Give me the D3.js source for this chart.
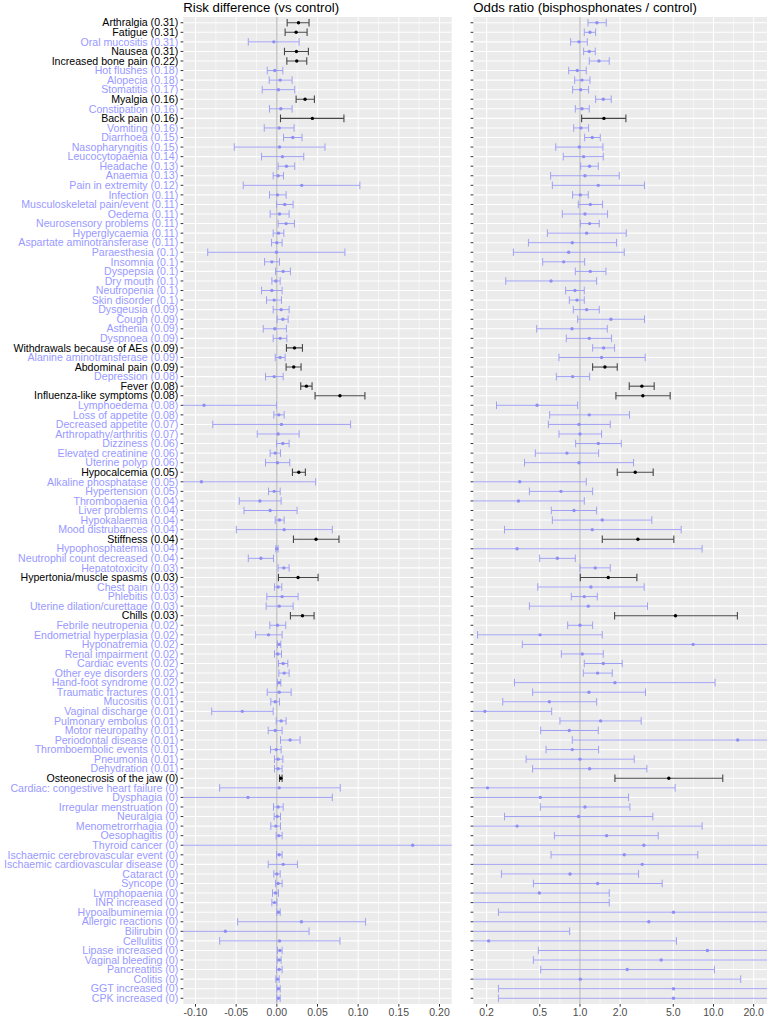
<!DOCTYPE html>
<html><head><meta charset="utf-8">
<script src="https://cdn.jsdelivr.net/npm/d3@7"></script>
<style>body{margin:0;background:#fff}svg{display:block}text{font-family:"Liberation Sans",Arial,sans-serif}</style>
</head><body><svg id="c" width="768" height="1017"></svg>
<script>
const labels = ["Arthralgia (0.31)","Fatigue (0.31)","Oral mucositis (0.31)","Nausea (0.31)","Increased bone pain (0.22)","Hot flushes (0.18)","Alopecia (0.18)","Stomatitis (0.17)","Myalgia (0.16)","Constipation (0.16)","Back pain (0.16)","Vomiting (0.16)","Diarrhoea (0.15)","Nasopharyngitis (0.15)","Leucocytopaenia (0.14)","Headache (0.13)","Anaemia (0.13)","Pain in extremity (0.12)","Infection (0.11)","Musculoskeletal pain/event (0.11)","Oedema (0.11)","Neurosensory problems (0.11)","Hyperglycaemia (0.11)","Aspartate aminotransferase (0.11)","Paraesthesia (0.1)","Insomnia (0.1)","Dyspepsia (0.1)","Dry mouth (0.1)","Neutropenia (0.1)","Skin disorder (0.1)","Dysgeusia (0.09)","Cough (0.09)","Asthenia (0.09)","Dyspnoea (0.09)","Withdrawals because of AEs (0.09)","Alanine aminotransferase (0.09)","Abdominal pain (0.09)","Depression (0.08)","Fever (0.08)","Influenza-like symptoms (0.08)","Lymphoedema (0.08)","Loss of appetite (0.08)","Decreased appetite (0.07)","Arthropathy/arthritis (0.07)","Dizziness (0.06)","Elevated creatinine (0.06)","Uterine polyp (0.06)","Hypocalcemia (0.05)","Alkaline phosphatase (0.05)","Hypertension (0.05)","Thrombopaenia (0.04)","Liver problems (0.04)","Hypokalaemia (0.04)","Mood distrubances (0.04)","Stiffness (0.04)","Hypophosphatemia (0.04)","Neutrophil count decreased (0.04)","Hepatotoxicity (0.03)","Hypertonia/muscle spasms (0.03)","Chest pain (0.03)","Phlebitis (0.03)","Uterine dilation/curettage (0.03)","Chills (0.03)","Febrile neutropenia (0.02)","Endometrial hyperplasia (0.02)","Hyponatremia (0.02)","Renal impairment (0.02)","Cardiac events (0.02)","Other eye disorders (0.02)","Hand-foot syndrome (0.02)","Traumatic fractures (0.01)","Mucositis (0.01)","Vaginal discharge (0.01)","Pulmonary embolus (0.01)","Motor neuropathy (0.01)","Periodontal disease (0.01)","Thromboembolic events (0.01)","Pneumonia (0.01)","Dehydration (0.01)","Osteonecrosis of the jaw (0)","Cardiac: congestive heart failure (0)","Dysphagia (0)","Irregular menstruation (0)","Neuralgia (0)","Menometrorrhagia (0)","Oesophagitis (0)","Thyroid cancer (0)","Ischaemic cerebrovascular event (0)","Ischaemic cardiovascular disease (0)","Cataract (0)","Syncope (0)","Lymphopaenia (0)","INR increased (0)","Hypoalbuminemia (0)","Allergic reactions (0)","Bilirubin (0)","Cellulitis (0)","Lipase increased (0)","Vaginal bleeding (0)","Pancreatitis (0)","Colitis (0)","GGT increased (0)","CPK increased (0)"];

const rdEst = [0.0266,0.0237,-0.0037,0.0241,0.0245,-0.0025,0.0041,0.002,0.0347,0.0049,0.0437,0.0029,0.0196,0.0033,0.0069,0.0118,0.0016,0.0306,0.0008,0.0098,0.0033,0.0114,0.002,0,-0.0004,-0.0061,0.0078,-0.0012,-0.0061,-0.0033,0.0053,0.0074,-0.0025,0.0041,0.0217,0.0041,0.0208,-0.0033,0.0364,0.0776,-0.0895,0.0025,0.0057,0.0016,0.0074,-0.002,0.0008,0.027,-0.0927,-0.0033,-0.0208,-0.0082,0.0033,0.009,0.0482,0,-0.0196,0.0086,0.0261,0.0016,0.0065,0.0029,0.0315,0.0008,-0.0102,0.0029,0.0012,0.0078,0.009,0.0029,0.0029,-0.002,-0.0425,0.0053,-0.002,0.0163,-0.0008,0.0016,0.0016,0.0049,0.0029,-0.0355,0.0016,0.0004,-0.0012,0.0025,0.167,0.0029,0.0078,0,0.0016,-0.0016,-0.0029,0.002,0.0302,-0.0633,0.0033,0.0037,0.0029,0.0029,0.0008,0.002,0.002];
const rdLo = [0.0127,0.0102,-0.0351,0.0094,0.0123,-0.0118,-0.0094,-0.018,0.0237,-0.009,0.0045,-0.0155,0.0082,-0.0523,-0.0188,0.0016,-0.0045,-0.0413,-0.009,-0.0004,-0.0082,0.0016,-0.0045,-0.0065,-0.085,-0.0151,-0.0016,-0.0061,-0.0188,-0.0127,-0.0045,0.0004,-0.0167,-0.0045,0.0118,-0.002,0.0114,-0.0139,0.0294,0.047,-0.18,-0.0037,-0.0788,-0.0241,-0.0004,-0.0082,-0.0139,0.0192,-0.23,-0.0102,-0.0462,-0.0404,-0.002,-0.0498,0.0204,-0.0012,-0.0351,0.0016,0.002,-0.0029,-0.0123,-0.0131,0.0167,-0.0086,-0.0261,0.0008,-0.0029,0.002,0.0025,0.0008,-0.0118,-0.0074,-0.0801,-0.0008,-0.0106,0.0045,-0.0078,-0.0029,-0.0029,0.0033,-0.0703,-0.139,-0.0041,-0.0033,-0.0074,-0.0008,-0.3,-0.0004,-0.0106,-0.0037,-0.0016,-0.0053,-0.0061,0,-0.0482,-0.166,-0.0703,0.0008,0.0004,-0.0004,-0.0012,0,0];
const rdHi = [0.0396,0.0372,0.0274,0.0388,0.0368,0.0074,0.0188,0.022,0.0462,0.0188,0.0825,0.0212,0.031,0.0592,0.0331,0.022,0.0082,0.1021,0.0114,0.02,0.0151,0.0217,0.0086,0.0065,0.0837,0.0033,0.0167,0.0041,0.0065,0.0057,0.0151,0.0139,0.0118,0.0123,0.0315,0.0102,0.0298,0.0078,0.0433,0.1083,-0.0004,0.009,0.0907,0.0274,0.0151,0.0045,0.0159,0.0351,0.0478,0.0041,0.0053,0.0249,0.009,0.0682,0.0764,0.0016,-0.0041,0.0151,0.0507,0.0061,0.0261,0.02,0.0458,0.011,0.0065,0.0049,0.0057,0.0135,0.0151,0.0049,0.0176,0.0033,-0.0045,0.0114,0.0065,0.0286,0.0053,0.0074,0.0065,0.0065,0.078,0.0682,0.0078,0.0045,0.0045,0.0065,0.63,0.0065,0.0253,0.0041,0.0065,0.002,0,0.0041,0.1091,0.0396,0.0776,0.0065,0.0053,0.0065,0.0029,0.0041,0.0041];

const orEst = [1.34,1.188,0.983,1.174,1.387,0.955,1.035,1.012,1.495,1.035,1.512,1.017,1.236,0.989,1.065,1.181,1.09,1.371,1.006,1.195,1.09,1.181,1.122,0.876,0.823,0.755,1.195,0.607,0.917,0.95,1.122,1.706,0.871,1.174,1.503,1.452,1.538,0.881,2.909,2.959,0.477,1.174,0.983,1.0,1.371,0.799,0.983,2.594,0.354,0.721,0.346,0.902,1.469,1.236,2.716,0.338,0.677,1.302,1.629,1.208,1.077,1.154,5.195,1.0,0.502,7.042,1.041,1.495,1.356,1.827,1.168,0.59,0.194,1.428,0.832,15.19,0.876,1.0,1.181,4.631,0.203,0.505,1.09,0.977,0.338,1.583,3.011,2.146,2.926,0.842,1.356,0.496,0.12,5.019,3.28,0.1,0.207,9.01,4.058,2.26,1.006,5.02,5.02];
const orLo = [1.148,1.077,0.851,1.065,1.174,0.823,0.912,0.881,1.31,0.923,1.029,0.897,1.084,0.658,0.75,1.012,0.603,0.621,0.881,0.972,0.738,1.006,0.57,0.411,0.317,0.526,0.923,0.278,0.781,0.832,0.891,0.961,0.474,0.79,1.244,0.696,1.244,0.665,2.339,1.859,0.237,0.593,0.58,0.696,0.928,0.463,0.384,1.902,0.11,0.418,0.1,0.61,0.621,0.272,1.469,0.014,0.499,1.0,1.006,0.483,0.861,0.418,1.817,0.809,0.171,0.37,0.725,1.077,1.059,0.323,0.442,0.264,0.06,0.708,0.508,0.876,0.557,0.395,0.442,1.827,0.008,0.11,0.505,0.272,0.014,0.643,0.1,0.607,0.1,0.258,0.448,0.14,0.01,0.245,0.05,0.01,0.008,0.488,0.448,0.508,0.06,0.245,0.245];
const orHi = [1.574,1.31,1.135,1.302,1.657,1.115,1.188,1.161,1.716,1.174,2.208,1.161,1.419,1.486,1.495,1.371,1.969,3.045,1.154,1.477,1.61,1.395,2.221,1.88,2.146,1.084,1.565,1.333,1.077,1.077,1.395,3.045,1.601,1.726,1.817,3.081,1.902,1.181,3.597,4.738,0.961,2.352,1.686,1.452,2.038,1.379,2.52,3.536,1.115,1.244,1.077,1.333,3.455,5.728,5.048,8.222,0.923,1.686,2.669,3.028,1.348,3.207,15.11,1.244,1.469,130,1.495,2.073,1.745,10.28,3.098,1.333,0.614,2.875,1.371,260,1.379,2.549,3.17,11.74,5.165,2.312,2.366,3.516,8.222,3.854,90,7.63,85,2.747,4.129,1.657,1.657,100,200,0.837,5.284,160,37,10.17,16.0,100,100];

const rdSignificant = [0,1,3,4,8,10,34,36,38,39,47,54,58,62,79];
const orSignificant = [10,36,38,39,47,54,58,62,79];

const rdTicks = [-0.10,-0.05,0.00,0.05,0.10,0.15,0.20];
const rdMinor = [-0.075,-0.025,0.025,0.075,0.125,0.175];
const orTicks = [0.2,0.5,1.0,2.0,5.0,10.0,20.0];
const orMinor = [Math.sqrt(0.1),Math.sqrt(0.5),Math.sqrt(2),Math.sqrt(10),Math.sqrt(50),Math.sqrt(200)];

const BLUE_LINE="#a0a0f4", BLUE_PT="#8f8ff3", BLUE_TXT="#9999ff";
const BLK_LINE="#464646", BLK_PT="#000";

const svg = d3.select("#c");
const pTop=17, pBot=1004;
const y = d3.scalePoint().domain(labels).range([pTop,pBot]).padding(0.6);

const xL = d3.scaleLinear().domain([-0.115,0.215]).range([183.3,451.7]);
const xR = d3.scaleLog().domain([Math.pow(10,-0.799),Math.pow(10,1.401)]).range([473.3,767]);

const fmtL = v => d3.format(".2f")(v).replace("−","-");
const fmtR = v => d3.format(".1f")(v);

function panel(id, x, ticks, minor, ref, lo, est, hi, sigList, title, fmt){
  const [x0,x1] = x.range();
  const g = svg.append("g");
  g.append("rect").attr("x",x0).attr("y",pTop).attr("width",x1-x0).attr("height",pBot-pTop).attr("fill","#EBEBEB");
  g.append("clipPath").attr("id","clip"+id).append("rect").attr("x",x0).attr("y",pTop).attr("width",x1-x0).attr("height",pBot-pTop);
  const grid = g.append("g").attr("clip-path",`url(#clip${id})`);
  grid.selectAll(".mn").data(minor).enter().append("line")
    .attr("x1",d=>x(d)).attr("x2",d=>x(d)).attr("y1",pTop).attr("y2",pBot)
    .attr("stroke","#fff").attr("stroke-width",0.55);
  grid.selectAll(".mj").data(ticks).enter().append("line")
    .attr("x1",d=>x(d)).attr("x2",d=>x(d)).attr("y1",pTop).attr("y2",pBot)
    .attr("stroke","#fff").attr("stroke-width",1.07);
  grid.selectAll(".hz").data(labels).enter().append("line")
    .attr("x1",x0).attr("x2",x1).attr("y1",d=>y(d)).attr("y2",d=>y(d))
    .attr("stroke","#fff").attr("stroke-width",1.07);
  grid.append("line").attr("x1",x(ref)).attr("x2",x(ref)).attr("y1",pTop).attr("y2",pBot)
    .attr("stroke","#b5b5b5").attr("stroke-width",1.1);

  const rows = labels.map((l,i)=>({l,i,lo:lo[i],est:est[i],hi:hi[i],sig:sigList.includes(i)}));
  rows.sort((a,b)=>a.sig-b.sig);
  const marks = g.append("g").attr("clip-path",`url(#clip${id})`);
  const cap = 3.8;
  rows.forEach(r=>{
    const yy = y(r.l), col = r.sig?BLK_LINE:BLUE_LINE, sw = r.sig?1.1:1;
    marks.append("line").attr("x1",x(r.lo)).attr("x2",x(r.hi)).attr("y1",yy).attr("y2",yy).attr("stroke",col).attr("stroke-width",sw);
    [r.lo,r.hi].forEach(v=>marks.append("line").attr("x1",x(v)).attr("x2",x(v)).attr("y1",yy-cap).attr("y2",yy+cap).attr("stroke",col).attr("stroke-width",sw));
    marks.append("circle").attr("cx",x(r.est)).attr("cy",yy).attr("r",1.7).attr("fill",r.sig?BLK_PT:BLUE_PT);
  });

  // y ticks
  g.selectAll(".yt").data(labels).enter().append("line")
    .attr("x1",x0-2.7).attr("x2",x0).attr("y1",d=>y(d)).attr("y2",d=>y(d))
    .attr("stroke","#333").attr("stroke-width",1);
  // x axis
  g.selectAll(".xt").data(ticks).enter().append("line")
    .attr("x1",d=>x(d)).attr("x2",d=>x(d)).attr("y1",pBot).attr("y2",pBot+2.7)
    .attr("stroke","#333").attr("stroke-width",1);
  g.selectAll(".xl").data(ticks).enter().append("text")
    .attr("x",d=>x(d)).attr("y",1015.5).attr("text-anchor","middle")
    .attr("font-size",10.5).attr("fill","#4D4D4D").text(fmt);
  g.append("text").attr("x",x0).attr("y",12).attr("font-size",13.2).attr("fill","#000").text(title);
}

panel("L", xL, rdTicks, rdMinor, 0, rdLo, rdEst, rdHi, rdSignificant, "Risk difference (vs control)", fmtL);
panel("R", xR, orTicks, orMinor, 1, orLo, orEst, orHi, orSignificant, "Odds ratio (bisphosphonates / control)", fmtR);

svg.selectAll(".lab").data(labels).enter().append("text")
  .attr("x",178.3).attr("y",d=>y(d)).attr("dy","0.35em").attr("text-anchor","end")
  .attr("font-size",10.6)
  .attr("fill",(d,i)=>rdSignificant.includes(i)?"#000":BLUE_TXT)
  .text(d=>d);
</script></body></html>
